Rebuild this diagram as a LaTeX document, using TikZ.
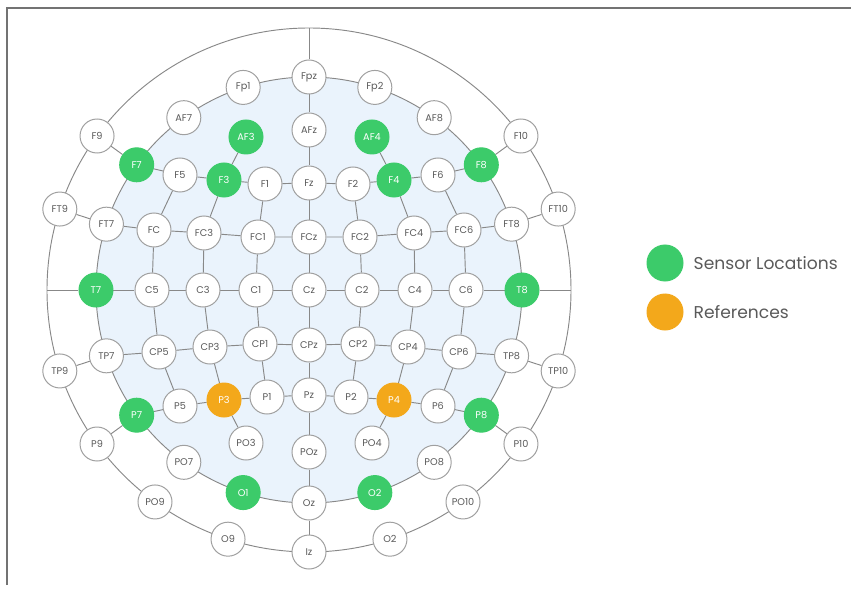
\documentclass[tikz,border=0pt]{standalone}
\usepackage{fontspec}
\setmainfont{Poppins}
\usepackage{tikz}
\usetikzlibrary{positioning,backgrounds}

\definecolor{sensgreen}{HTML}{3CCB6A}
\definecolor{refamber}{HTML}{F3A81B}
\definecolor{scalpblue}{HTML}{EAF3FC}
\definecolor{wiregray}{HTML}{888888}
\definecolor{rimgray}{HTML}{A0A0A0}
\definecolor{labgray}{HTML}{5A5A5A}
\definecolor{framegray}{HTML}{737373}

\begin{document}
\begin{tikzpicture}[x=0.03cm, y=0.03cm,
    elec/.style={circle, draw=rimgray, fill=white, line width=0.85pt, minimum size=1.02cm, inner sep=0pt, font=\fontsize{8.3}{9}\selectfont, text=labgray},
    sens/.style={elec, draw=sensgreen, fill=sensgreen, text=white},
    refr/.style={elec, draw=refamber, fill=refamber, text=white},
    wire/.style={draw=wiregray, line width=0.8pt},
    legtext/.style={inner sep=0pt, font=\fontsize{14.6}{16}\selectfont, text=labgray}
]
\useasboundingbox (-309,-301) rectangle (542,290);
\draw[framegray, line width=1.2pt] (-302,-295) -- (-302,282) -- (542,282);

\node[elec] (Fpz) at (90:213) {Fpz};
\node[elec] (Fp1) at (108:213) {Fp1};
\node[elec] (Fp2) at (72:213) {Fp2};
\node[elec] (AF7) at (126:213) {AF7};
\node[elec] (AF8) at (54:213) {AF8};
\node[sens] (F7) at (144:213) {F7};
\node[sens] (F8) at (36:213) {F8};
\node[elec] (FT7) at (162:213) {FT7};
\node[elec] (FT8) at (18:213) {FT8};
\node[sens] (T7) at (180:213) {T7};
\node[sens] (T8) at (0:213) {T8};
\node[elec] (TP7) at (198:213) {TP7};
\node[elec] (TP8) at (-18:213) {TP8};
\node[sens] (P7) at (216:213) {P7};
\node[sens] (P8) at (-36:213) {P8};
\node[elec] (PO7) at (234:213) {PO7};
\node[elec] (PO8) at (-54:213) {PO8};
\node[sens] (O1) at (252:213) {O1};
\node[sens] (O2) at (-72:213) {O2};
\node[elec] (Oz) at (270:213) {Oz};

\node[elec] (F9) at (144:262) {F9};
\node[elec] (F10) at (36:262) {F10};
\node[elec] (FT9) at (162:262) {FT9};
\node[elec] (FT10) at (18:262) {FT10};
\node[elec] (TP9) at (198:262) {TP9};
\node[elec] (TP10) at (-18:262) {TP10};
\node[elec] (P9) at (216:262) {P9};
\node[elec] (P10) at (-36:262) {P10};
\node[elec] (PO9) at (234:262) {PO9};
\node[elec] (PO10) at (-54:262) {PO10};
\node[elec] (O9) at (252:262) {O9};
\node[elec] (O10) at (-72:262) {O2};
\node[elec] (Iz) at (270:262) {Iz};
\coordinate (nasion) at (90:262);
\coordinate (leftear) at (180:262);
\coordinate (rightear) at (0:262);

\node[elec] (AFz) at (0,160) {AFz};
\node[sens] (AF3) at (-63,153) {AF3};
\node[sens] (AF4) at (63,153) {AF4};
\node[elec] (Fz) at (0,107) {Fz};
\node[elec] (F1) at (-44,106) {F1};
\node[elec] (F2) at (44,106) {F2};
\node[sens] (F3) at (-85,110) {F3};
\node[sens] (F4) at (85,110) {F4};
\node[elec] (F5) at (-129,115) {F5};
\node[elec] (F6) at (129,115) {F6};
\node[elec] (FCz) at (0,53) {FCz};
\node[elec] (FC1) at (-51,53) {FC1};
\node[elec] (FC2) at (51,53) {FC2};
\node[elec] (FC3) at (-105,57) {FC3};
\node[elec] (FC4) at (105,57) {FC4};
\node[elec] (FC5) at (-155,60) {FC};
\node[elec] (FC6) at (155,60) {FC6};
\node[elec] (Cz) at (0,0) {Cz};
\node[elec] (C1) at (-53,0) {C1};
\node[elec] (C2) at (53,0) {C2};
\node[elec] (C3) at (-106,0) {C3};
\node[elec] (C4) at (106,0) {C4};
\node[elec] (C5) at (-157,0) {C5};
\node[elec] (C6) at (157,0) {C6};
\node[elec] (CPz) at (0,-55) {CPz};
\node[elec] (CP1) at (-49,-54) {CP1};
\node[elec] (CP2) at (49,-54) {CP2};
\node[elec] (CP3) at (-99,-57) {CP3};
\node[elec] (CP4) at (99,-57) {CP4};
\node[elec] (CP5) at (-150,-62) {CP5};
\node[elec] (CP6) at (150,-62) {CP6};
\node[elec] (Pz) at (0,-105) {Pz};
\node[elec] (P1) at (-42,-107) {P1};
\node[elec] (P2) at (42,-107) {P2};
\node[refr] (P3) at (-85,-110) {P3};
\node[refr] (P4) at (85,-110) {P4};
\node[elec] (P5) at (-129,-116) {P5};
\node[elec] (P6) at (129,-116) {P6};
\node[elec] (POz) at (0,-162) {POz};
\node[elec] (PO3) at (-63,-153) {PO3};
\node[elec] (PO4) at (63,-153) {PO4};

\begin{scope}[on background layer]
\fill[scalpblue] (0,0) circle (213);
\draw[wire] (0,0) circle (213) (0,0) circle (262);
\draw[wire] (nasion) -- (Fpz) -- (AFz) -- (Fz) -- (FCz) -- (Cz) -- (CPz) -- (Pz) -- (POz) -- (Oz) -- (Iz);
\draw[wire] (leftear) -- (T7) -- (C5) -- (C3) -- (C1) -- (Cz) -- (C2) -- (C4) -- (C6) -- (T8) -- (rightear);
\draw[wire] (F9) -- (F7) -- (F5) -- (F3) -- (F1) -- (Fz) -- (F2) -- (F4) -- (F6) -- (F8) -- (F10);
\draw[wire] (FT9) -- (FT7) -- (FC5) -- (FC3) -- (FC1) -- (FCz) -- (FC2) -- (FC4) -- (FC6) -- (FT8) -- (FT10);
\draw[wire] (TP9) -- (TP7) -- (CP5) -- (CP3) -- (CP1) -- (CPz) -- (CP2) -- (CP4) -- (CP6) -- (TP8) -- (TP10);
\draw[wire] (P9) -- (P7) -- (P5) -- (P3) -- (P1) -- (Pz) -- (P2) -- (P4) -- (P6) -- (P8) -- (P10);
\draw[wire] (AF3) -- (F3) -- (FC3) -- (C3) -- (CP3) -- (P3) -- (PO3);
\draw[wire] (AF4) -- (F4) -- (FC4) -- (C4) -- (CP4) -- (P4) -- (PO4);
\draw[wire] (F5) -- (FC5) -- (C5) -- (CP5) -- (P5);
\draw[wire] (F6) -- (FC6) -- (C6) -- (CP6) -- (P6);
\draw[wire] (F1) -- (FC1) -- (C1) -- (CP1) -- (P1);
\draw[wire] (F2) -- (FC2) -- (C2) -- (CP2) -- (P2);
\end{scope}

\node[sens, minimum size=1.08cm] (lgsens) at (356,27) {};
\node[refr, minimum size=1.08cm] (lgref) at (356,-22) {};
\node[legtext, right=0.3cm of lgsens] (lgsenstext) {Sensor Locations};
\node[legtext, right=0.3cm of lgref] (lgreftext) {References};
\end{tikzpicture}
\end{document}
